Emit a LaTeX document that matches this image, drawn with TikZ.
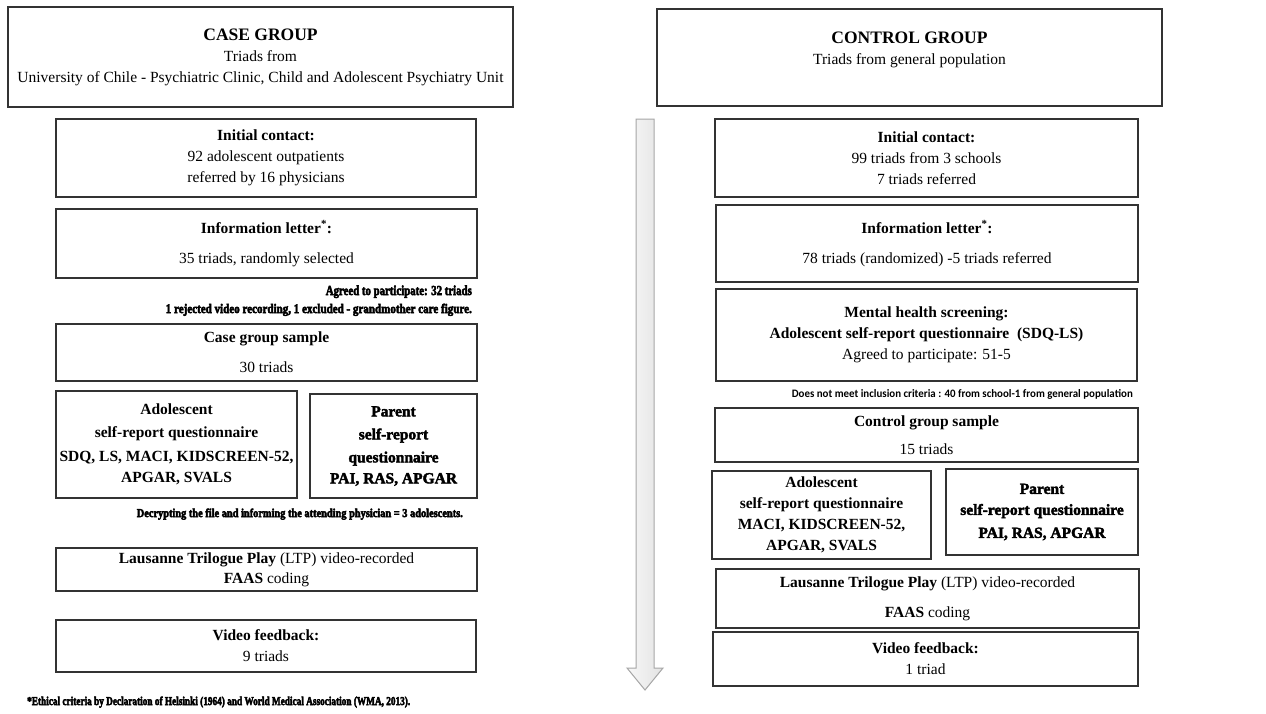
\documentclass[tikz,border=0pt]{standalone}
\usepackage{fontspec}
\usepackage{graphicx}
\setmainfont{Liberation Serif}
\newfontfamily\heavyfont{Liberation Serif}[BoldFeatures={FakeBold=2.5}]
\newfontfamily\heaviestfont{Liberation Serif}[BoldFeatures={FakeBold=4}]
\newfontfamily\notesans{Carlito}
\newcommand\bodyfont{\fontsize{15.5}{21}\selectfont}
\newcommand\titlefont{\fontsize{17.5}{21}\selectfont\bfseries}
\newcommand\hv{\heavyfont\bfseries}
\newcommand\hvv{\heaviestfont\bfseries}
\newcommand\bx[7][]{\node[box, #1, minimum width={#5-#3}, minimum height={#6-#4}] (#2) at ({(#3+#5)/2},{(#4+#6)/2}) {#7};}
\tikzset{
  box/.style={draw=black!80, line width=1.1pt, align=center, inner sep=0pt, font=\bodyfont},
  boldbox/.style={font=\bodyfont\bfseries},
  heavybox/.style={font=\bodyfont\hv},
  note/.style={inner sep=0pt},
  bigarrow/.style={draw=gray!70, line width=1pt, left color=gray!6, right color=gray!22}
}
\begin{document}
\begin{tikzpicture}[x=1pt,y=-1pt]
\useasboundingbox (0,0) rectangle (1266,713);
\fill[white] (0,0) rectangle (1266,713);

% group headers
\bx{casegrp}{8}{7}{513}{107}{{\titlefont CASE GROUP}\\Triads from\\University of Chile - Psychiatric Clinic, Child and Adolescent Psychiatry Unit}
\bx{ctrlgrp}{657}{9}{1162}{106}{{\titlefont CONTROL GROUP}\\Triads from general population\\[-2pt]\mbox{}}

% case column
\bx{cinit}{56}{119}{476}{197}{\textbf{Initial contact:}\\92 adolescent outpatients\\referred by 16 physicians}
\bx{cinfo}{56}{209}{477}{278}{\textbf{Information letter\textsuperscript{*}:}\\[9pt]35 triads, randomly selected}
\node[note, anchor=base east] (cn1) at (472,295) {\resizebox{146pt}{9.5pt}{\hvv\fontsize{12}{14}\selectfont Agreed to participate: 32 triads}};
\node[note, anchor=base east] (cn2) at (472,313) {\resizebox{306pt}{9.3pt}{\hvv\fontsize{12}{14}\selectfont 1 rejected video recording, 1 excluded - grandmother care figure.}};
\bx{csample}{56}{324}{477}{381}{\textbf{Case group sample}\\[9pt]30 triads}
\bx[boldbox]{cadol}{56}{391}{297}{498}{Adolescent\\[2pt]self-report questionnaire\\[3pt]SDQ, LS, MACI, KIDSCREEN-52,\\APGAR, SVALS}
\bx[heavybox]{cpar}{310}{394}{477}{498}{Parent\\[2pt]self-report\\[2pt]questionnaire\\PAI, RAS, APGAR}
\node[note, anchor=base east] (cn3) at (463,517) {\resizebox{326pt}{8.5pt}{\hvv\fontsize{12}{14}\selectfont Decrypting the file and informing the attending physician = 3 adolescents.}};
\bx{cltp}{56}{548}{477}{591}{\textbf{Lausanne Trilogue Play} (LTP) video-recorded\\[-1pt]\textbf{FAAS} coding}
\bx{cvid}{56}{620}{476}{672}{\textbf{Video feedback:}\\9 triads}
\node[note, anchor=base west] (foot) at (27,705) {\resizebox{383pt}{8.5pt}{\hvv\fontsize{11}{13}\selectfont *Ethical criteria by Declaration of Helsinki (1964) and World Medical Association (WMA, 2013).}};

% central arrow
\draw[bigarrow] (636,119) -- (654,119) -- (654,668) -- (663,668) -- (645,690) -- (627,668) -- (636,668) -- cycle;

% control column
\bx{kinit}{715}{119}{1138}{197}{\textbf{Initial contact:}\\99 triads from 3 schools\\7 triads referred}
\bx{kinfo}{716}{205}{1138}{282}{\textbf{Information letter\textsuperscript{*}:}\\[9pt]78 triads (randomized) -5 triads referred}
\bx{kment}{716}{289}{1137}{381}{\textbf{Mental health screening:}\\\textbf{Adolescent self-report questionnaire\ \ (SDQ-LS)}\\Agreed to participate: 51-5}
\node[note, anchor=base east] (kn1) at (1133,397) {\resizebox{341pt}{8pt}{\notesans\bfseries\fontsize{11}{13}\selectfont Does not meet inclusion criteria : 40 from school-1 from general population}};
\bx{ksample}{715}{408}{1138}{462}{\textbf{Control group sample}\\[7pt]15 triads}
\bx[boldbox]{kadol}{712}{471}{931}{559}{Adolescent\\self-report questionnaire\\MACI, KIDSCREEN-52,\\APGAR, SVALS}
\bx[heavybox]{kpar}{946}{469}{1138}{555}{Parent\\self-report questionnaire\\[2pt]PAI, RAS, APGAR}
\bx{kltp}{716}{569}{1139}{628}{\textbf{Lausanne Trilogue Play} (LTP) video-recorded\\[9pt]\textbf{FAAS} coding}
\bx{kvid}{713}{632}{1138}{686}{\textbf{Video feedback:}\\1 triad}
\end{tikzpicture}
\end{document}
